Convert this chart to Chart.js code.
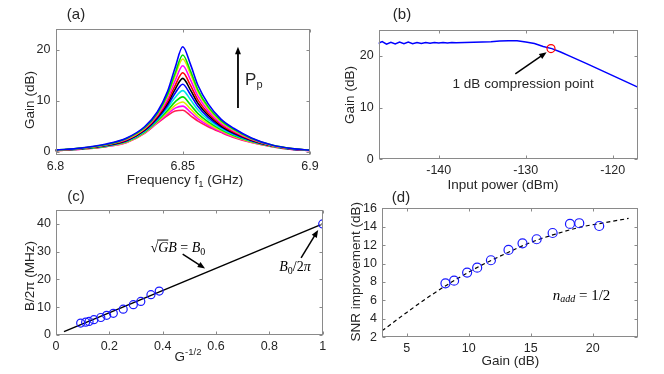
<!DOCTYPE html>
<html>
<head>
<meta charset="utf-8">
<script src="https://cdn.jsdelivr.net/npm/chart.js@4.4.1/dist/chart.umd.min.js"></script>
<style>
  html, body { margin: 0; padding: 0; background: #fff; }
  body { width: 664px; height: 374px; position: relative; overflow: hidden; }
  canvas { position: absolute; }
</style>
</head>
<body>
<canvas id="chartA" style="left:0;top:0" width="332" height="190"></canvas>
<canvas id="chartB" style="left:332px;top:0" width="332" height="192"></canvas>
<canvas id="chartC" style="left:0;top:187px" width="332" height="187"></canvas>
<canvas id="chartD" style="left:332px;top:187px" width="332" height="187"></canvas>
<script>
// (a) gain vs signal frequency, one curve per pump power (top curve first)
const freqA = [6.8, 6.81, 6.82, 6.828, 6.835, 6.84, 6.844, 6.847, 6.85, 6.853, 6.856, 6.86, 6.865, 6.87, 6.877, 6.885, 6.893, 6.9];
const gainA = [
  [0.3, 0.7, 1.5, 2.7, 4.9, 7.8, 11.8, 16.5, 20.6, 17.2, 13.0, 9.4, 6.4, 4.6, 2.7, 1.3, 0.6, 0.3],
  [0.3, 0.7, 1.4, 2.6, 4.7, 7.5, 11.2, 15.4, 19.0, 15.9, 12.1, 8.8, 6.1, 4.4, 2.6, 1.3, 0.6, 0.3],
  [0.28, 0.66, 1.4, 2.53, 4.65, 7.38, 10.9, 14.9, 18.2, 15.3, 11.7, 8.55, 5.9, 4.26, 2.53, 1.24, 0.57, 0.29],
  [0.27, 0.64, 1.35, 2.43, 4.51, 7.14, 10.39, 13.95, 16.87, 14.17, 10.9, 8.05, 5.62, 4.06, 2.43, 1.21, 0.55, 0.29],
  [0.26, 0.62, 1.3, 2.33, 4.37, 6.9, 9.87, 13.0, 15.5, 13.06, 10.13, 7.56, 5.33, 3.86, 2.33, 1.18, 0.54, 0.28],
  [0.25, 0.6, 1.25, 2.25, 4.25, 6.7, 9.45, 12.25, 14.4, 12.15, 9.5, 7.15, 5.1, 3.7, 2.25, 1.15, 0.53, 0.28],
  [0.24, 0.58, 1.2, 2.17, 4.13, 6.5, 9.03, 11.49, 13.25, 11.24, 8.87, 6.75, 4.87, 3.54, 2.17, 1.12, 0.51, 0.27],
  [0.23, 0.56, 1.16, 2.08, 4.0, 6.28, 8.56, 10.64, 12.0, 10.23, 8.17, 6.3, 4.61, 3.36, 2.08, 1.09, 0.5, 0.27],
  [0.22, 0.54, 1.1, 1.99, 3.87, 6.06, 8.09, 9.79, 10.76, 9.22, 7.47, 5.85, 4.35, 3.18, 1.99, 1.06, 0.48, 0.26],
  [0.21, 0.53, 1.07, 1.92, 3.77, 5.89, 7.71, 9.1, 9.77, 8.41, 6.91, 5.49, 4.14, 3.03, 1.92, 1.04, 0.47, 0.26],
  [0.21, 0.51, 1.03, 1.86, 3.68, 5.74, 7.4, 8.55, 8.96, 7.76, 6.46, 5.19, 3.97, 2.92, 1.86, 1.02, 0.46, 0.25],
  [0.2, 0.5, 1.0, 1.8, 3.6, 5.6, 7.1, 8.0, 8.15, 7.1, 6.0, 4.9, 3.8, 2.8, 1.8, 1.0, 0.45, 0.25]
];
const xTicksA = [6.8, 6.85, 6.9];
const yTicksA = [0, 10, 20];

// (b) gain vs input power
const powerB = [-147, -146.5, -146, -145.5, -145, -144.5, -144, -143.5, -143, -142.5, -142, -141.5, -141, -140.5, -140, -139.5, -139, -138.5, -138, -137, -136, -135, -134, -133, -132, -131, -130, -129, -128, -127, -126, -125, -123, -121, -119, -117];
const gainB = [22.4, 22.75, 22.25, 22.6, 22.3, 22.65, 22.35, 22.65, 22.35, 22.6, 22.4, 22.6, 22.45, 22.6, 22.5, 22.6, 22.5, 22.6, 22.55, 22.6, 22.65, 22.7, 22.75, 22.85, 22.9, 22.9, 22.7, 22.4, 21.8, 21.4, 20.75, 20.0, 18.5, 16.95, 15.4, 13.85];
const compPower = [-127.1];
const compGain = [21.4];
const xTicksB = [-140, -130, -120];
const yTicksB = [0, 10, 20];

// (c) bandwidth vs G^-1/2
const invSqrtG = [0.0925, 0.111, 0.124, 0.142, 0.168, 0.19, 0.215, 0.252, 0.29, 0.318, 0.356, 0.387, 1.0];
const bandwidth = [4.3, 4.6, 4.9, 5.5, 6.3, 7.1, 7.8, 9.3, 10.9, 12.1, 14.5, 15.8, 40.0];
const fitX = [0.03, 1.0];
const fitY = [1.2, 40.0];
const xTicksC = [0, 0.2, 0.4, 0.6, 0.8, 1];
const yTicksC = [0, 10, 20, 30, 40];

// (d) SNR improvement vs gain
const gainD = [8.12, 8.82, 9.87, 10.68, 11.79, 13.21, 14.34, 15.48, 16.77, 18.17, 18.92, 20.53];
const snrD = [7.86, 8.15, 9.02, 9.56, 10.36, 11.48, 12.2, 12.64, 13.32, 14.3, 14.38, 14.08];
const theoryGain = [3, 5, 7, 9, 11, 13, 15, 17, 19, 21, 22.9];
const theorySnr = [2.7, 4.7, 6.6, 8.3, 9.8, 11.1, 12.3, 13.2, 13.95, 14.45, 14.9];
const xTicksD = [5, 10, 15, 20];
const yTicksD = [2, 4, 6, 8, 10, 12, 14, 16];

const SANS = "'Liberation Sans', Arial, sans-serif";
const SERIF = "'Liberation Serif', 'DejaVu Serif', serif";
const TXT = "#262626";
const FRAME = "#8a8a8a";
const TITLE = "13.5px " + SANS;
const curveColors = ["#0000ff", "#00e000", "#e6e600", "#ff00ff", "#ff0000", "#000000",
  "#0000ff", "#00e6e6", "#00e000", "#e6e600", "#ff00ff", "#ff2050"];

const pts = (xs, ys) => xs.map((x, i) => ({ x: x, y: ys[i] }));

// text made of pieces: [text, font, dy, overline]
function rich(ctx, x, y, parts, align) {
  let w = 0;
  parts.forEach(p => { ctx.font = p[1]; w += ctx.measureText(p[0]).width; });
  let cx = align === "left" ? x : x - w / 2;
  ctx.textAlign = "left";
  ctx.textBaseline = "middle";
  parts.forEach(p => {
    ctx.font = p[1];
    const pw = ctx.measureText(p[0]).width;
    ctx.fillText(p[0], cx, y + (p[2] || 0));
    if (p[3]) {
      ctx.beginPath();
      ctx.moveTo(cx - 1, y - 8);
      ctx.lineTo(cx + pw, y - 8);
      ctx.stroke();
    }
    cx += pw;
  });
}

function vtext(ctx, x, y, text, font) {
  ctx.save();
  ctx.translate(x, y);
  ctx.rotate(-Math.PI / 2);
  ctx.font = font;
  ctx.textAlign = "center";
  ctx.textBaseline = "middle";
  ctx.fillText(text, 0, 0);
  ctx.restore();
}

function arrow(ctx, x1, y1, x2, y2, head) {
  const a = Math.atan2(y2 - y1, x2 - x1);
  ctx.beginPath();
  ctx.moveTo(x1, y1);
  ctx.lineTo(x2 - head * 0.8 * Math.cos(a), y2 - head * 0.8 * Math.sin(a));
  ctx.stroke();
  ctx.beginPath();
  ctx.moveTo(x2, y2);
  ctx.lineTo(x2 - head * Math.cos(a - 0.38), y2 - head * Math.sin(a - 0.38));
  ctx.lineTo(x2 - head * Math.cos(a + 0.38), y2 - head * Math.sin(a + 0.38));
  ctx.closePath();
  ctx.fill();
}

// MATLAB style box with inward ticks
const framePlugin = {
  id: "frame",
  afterDraw(chart) {
    const { ctx, chartArea: a, scales } = chart;
    const L = Math.round(a.left) + 0.5, R = Math.round(a.right) - 0.5;
    const T = Math.round(a.top) + 0.5, B = Math.round(a.bottom) - 0.5;
    ctx.save();
    ctx.strokeStyle = FRAME;
    ctx.lineWidth = 1;
    ctx.strokeRect(L, T, R - L, B - T);
    ctx.beginPath();
    scales.x.ticks.forEach(t => {
      const px = Math.round(scales.x.getPixelForValue(t.value)) + 0.5;
      ctx.moveTo(px, B); ctx.lineTo(px, B - 3);
      ctx.moveTo(px, T); ctx.lineTo(px, T + 3);
    });
    scales.y.ticks.forEach(t => {
      const py = Math.round(scales.y.getPixelForValue(t.value)) + 0.5;
      ctx.moveTo(L, py); ctx.lineTo(L + 3, py);
      ctx.moveTo(R, py); ctx.lineTo(R - 3, py);
    });
    ctx.stroke();
    ctx.restore();
  }
};

function makeOptions(c) {
  const tickFont = { family: SANS, size: 12.5 };
  return {
    responsive: false,
    animation: false,
    devicePixelRatio: 1,
    layout: { padding: { left: 0, top: c.top, right: c.right, bottom: 0 } },
    plugins: { legend: { display: false }, tooltip: { enabled: false } },
    elements: { point: { radius: 0 } },
    scales: {
      x: {
        type: "linear", min: c.xmin, max: c.xmax,
        afterBuildTicks: s => { s.ticks = c.xticks.map(v => ({ value: v })); },
        afterFit: s => { s.height = c.xh; },
        grid: { display: false, drawTicks: false },
        border: { display: false },
        ticks: { font: tickFont, color: TXT, padding: 4, maxRotation: 0, autoSkip: false, callback: v => String(v) }
      },
      y: {
        type: "linear", min: c.ymin, max: c.ymax,
        afterBuildTicks: s => { s.ticks = c.yticks.map(v => ({ value: v })); },
        afterFit: s => { s.width = c.yw; },
        grid: { display: false, drawTicks: false },
        border: { display: false },
        ticks: { font: tickFont, color: TXT, padding: 5, autoSkip: false, callback: v => String(v) }
      }
    }
  };
}

function notes(draw) {
  return {
    id: "notes",
    afterDraw(chart) {
      const ctx = chart.ctx;
      const X = v => chart.scales.x.getPixelForValue(v);
      const Y = v => chart.scales.y.getPixelForValue(v);
      ctx.save();
      ctx.fillStyle = TXT;
      ctx.strokeStyle = TXT;
      draw(ctx, X, Y);
      ctx.restore();
    }
  };
}

// ---- (a)
new Chart(document.getElementById("chartA"), {
  type: "line",
  data: {
    datasets: gainA.map((g, i) => ({
      data: pts(freqA, g),
      borderColor: curveColors[i],
      borderWidth: 1.6,
      cubicInterpolationMode: "monotone",
      fill: false
    }))
  },
  options: makeOptions({ top: 29, right: 22, xh: 35, yw: 55.5, xmin: 6.8, xmax: 6.9, ymin: -0.65, ymax: 24.1, xticks: xTicksA, yticks: yTicksA }),
  plugins: [framePlugin, notes((ctx, X, Y) => {
    ctx.fillStyle = "#000"; ctx.strokeStyle = "#000"; ctx.lineWidth = 1.8;
    arrow(ctx, X(6.8717), Y(8.6), X(6.8717), Y(20.6), 8);
    ctx.fillStyle = TXT;
    rich(ctx, X(6.8745), Y(14.1), [["P", "17px " + SANS], ["p", "11px " + SANS, 5]], "left");
    rich(ctx, 185, 180, [["Frequency f", TITLE], ["1", "9.5px " + SANS, 4], [" (GHz)", TITLE]]);
    vtext(ctx, 30, 100, "Gain (dB)", TITLE);
    rich(ctx, 76, 15, [["(a)", "15px " + SANS]]);
  })]
});

// ---- (b)
new Chart(document.getElementById("chartB"), {
  type: "line",
  data: {
    datasets: [
      { data: pts(compPower, compGain), showLine: false, pointRadius: 4, pointBorderColor: "#ff0000", pointBackgroundColor: "rgba(0,0,0,0)", pointBorderWidth: 1.2 },
      { data: pts(powerB, gainB), borderColor: "#0000ff", borderWidth: 1.5, tension: 0, fill: false }
    ]
  },
  options: makeOptions({ top: 30, right: 26, xh: 192 - 159.3, yw: 46.7, xmin: -146.9, xmax: -117.1, ymin: 0, ymax: 25, xticks: xTicksB, yticks: yTicksB }),
  plugins: [framePlugin, notes((ctx, X, Y) => {
    ctx.fillStyle = "#000"; ctx.strokeStyle = "#000"; ctx.lineWidth = 1.5;
    arrow(ctx, X(-131.2), Y(16.5), X(-127.6), Y(20.7), 8);
    ctx.fillStyle = TXT;
    rich(ctx, X(-130.3), Y(14.6), [["1 dB compression point", "13.5px " + SANS]]);
    rich(ctx, 171, 185, [["Input power (dBm)", TITLE]]);
    vtext(ctx, 18.3, 95, "Gain (dB)", TITLE);
    rich(ctx, 70, 15, [["(b)", "15px " + SANS]]);
  })]
});

// ---- (c)
new Chart(document.getElementById("chartC"), {
  type: "line",
  data: {
    datasets: [
      { data: pts(invSqrtG, bandwidth), showLine: false, pointRadius: 4, pointBorderColor: "#1a1aff", pointBackgroundColor: "rgba(0,0,0,0)", pointBorderWidth: 1.2 },
      { data: pts(fitX, fitY), borderColor: "#000", borderWidth: 1.5, fill: false }
    ]
  },
  options: makeOptions({ top: 23, right: 9.3, xh: 39, yw: 56, xmin: 0, xmax: 1, ymin: 0, ymax: 45, xticks: xTicksC, yticks: yTicksC }),
  plugins: [framePlugin, notes((ctx, X, Y) => {
    ctx.fillStyle = "#000"; ctx.strokeStyle = "#000"; ctx.lineWidth = 1.5;
    arrow(ctx, X(0.475), Y(29.1), X(0.559), Y(23.9), 8);
    arrow(ctx, X(0.919), Y(27.8), X(0.983), Y(37.8), 8);
    ctx.lineWidth = 1;
    const it = "italic 14px " + SERIF, up = "14px " + SERIF;
    rich(ctx, X(0.457), Y(31.3), [["\u221A", up], ["G", it, 0, true], ["B", it], [" = ", up], ["B", it], ["0", "10px " + SERIF, 4]]);
    rich(ctx, X(0.896), Y(24.4), [["B", it], ["0", "10px " + SERIF, 4], ["/2", up], ["\u03C0", it]]);
    ctx.fillStyle = TXT;
    rich(ctx, 188, 170, [["G", TITLE], ["-1/2", "9.5px " + SANS, -5]]);
    vtext(ctx, 30, 89, "B/2\u03C0 (MHz)", TITLE);
    rich(ctx, 76, 10, [["(c)", "15px " + SANS]]);
  })]
});

// ---- (d)
new Chart(document.getElementById("chartD"), {
  type: "line",
  data: {
    datasets: [
      { data: pts(gainD, snrD), showLine: false, pointRadius: 4.5, pointBorderColor: "#1a1aff", pointBackgroundColor: "rgba(0,0,0,0)", pointBorderWidth: 1.2 },
      { data: pts(theoryGain, theorySnr), borderColor: "#000", borderWidth: 1.2, borderDash: [4, 3], cubicInterpolationMode: "monotone", fill: false }
    ]
  },
  options: makeOptions({ top: 21.3, right: 26, xh: 187 - 150.3, yw: 50, xmin: 3, xmax: 23.66, ymin: 2, ymax: 16, xticks: xTicksD, yticks: yTicksD }),
  plugins: [framePlugin, notes((ctx, X, Y) => {
    ctx.fillStyle = "#000";
    const it = "italic 15px " + SERIF;
    rich(ctx, X(19.1), Y(6.5), [["n", it], ["add", "italic 10px " + SERIF, 4], [" = 1/2", "15px " + SERIF]]);
    ctx.fillStyle = TXT;
    rich(ctx, 178.3, 174.7, [["Gain (dB)", TITLE]]);
    vtext(ctx, 24, 84.7, "SNR improvement (dB)", TITLE);
    rich(ctx, 69, 11, [["(d)", "15px " + SANS]]);
  })]
});
</script>
</body>
</html>
